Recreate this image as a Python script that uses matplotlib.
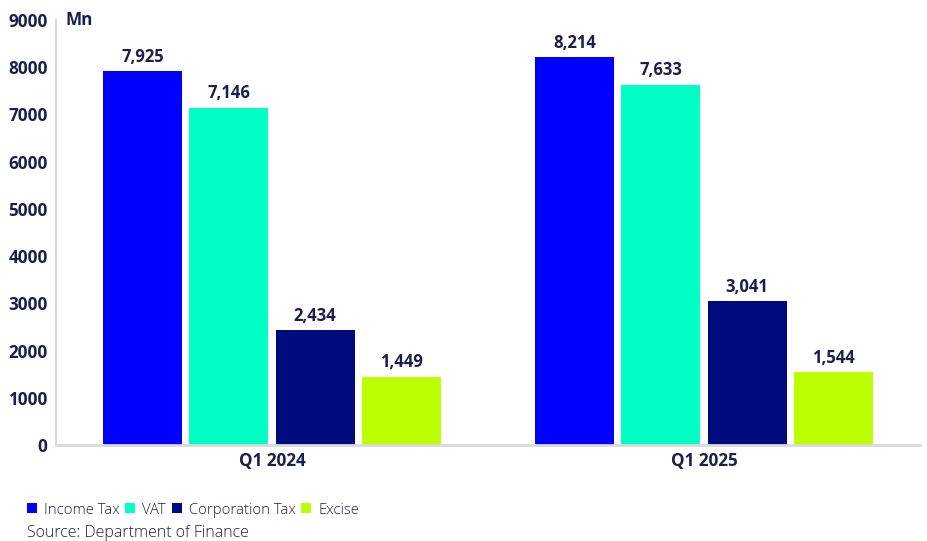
import matplotlib
matplotlib.use("Agg")
import matplotlib.pyplot as plt
import numpy as np
from matplotlib.patches import Patch

categories = ["Q1 2024", "Q1 2025"]
series_names = ["Income Tax", "VAT", "Corporation Tax", "Excise"]
income_tax = [7925, 8214]
vat = [7146, 7633]
corporation_tax = [2434, 3041]
excise = [1449, 1544]
yticks = [0, 1000, 2000, 3000, 4000, 5000, 6000, 7000, 8000, 9000]

colors = ["#0000FF", "#00FFC4", "#000B7D", "#BBFF00"]
text_color = "#1B1F4B"

plt.rcParams['font.family'] = ['Open Sans', 'DejaVu Sans']

fig = plt.figure(figsize=(9.28, 5.41), dpi=100)
ax = fig.add_axes([56/928, 96/541, 864/928, 425/541])

x = np.arange(len(categories))
offsets = [-0.3, -0.1, 0.1, 0.3]
width = 0.182
data = [income_tax, vat, corporation_tax, excise]
for vals, off, col in zip(data, offsets, colors):
    bars = ax.bar(x + off, vals, width=width, color=col)
    for b, v in zip(bars, vals):
        ax.text(b.get_x() + b.get_width()/2, v + 110, f"{v:,}", ha='center', va='bottom',
                fontsize=12, fontweight='bold', color=text_color)

ax.set_xlim(-0.5, 1.5)
ax.set_ylim(0, 9000)
ax.set_yticks(yticks)
ax.set_yticklabels([str(t) for t in yticks])
ax.set_xticks(x)
ax.set_xticklabels(categories)
for lab in ax.get_yticklabels() + ax.get_xticklabels():
    lab.set_fontweight('bold')
    lab.set_fontsize(12.3)
    lab.set_color(text_color)
ax.tick_params(axis='both', length=0)
ax.tick_params(axis='y', pad=6)
ax.tick_params(axis='x', pad=5)
for s in ['top', 'right']:
    ax.spines[s].set_visible(False)
ax.spines['left'].set_color('#D9D9D9')
ax.spines['left'].set_linewidth(1.5)
ax.spines['bottom'].set_color('#D9D9D9')
ax.spines['bottom'].set_linewidth(2)

ax.text(0.011, 1.0, "Mn", transform=ax.transAxes, ha='left', va='center',
        fontsize=12.3, fontweight='bold', color=text_color)

handles = [Patch(facecolor=c, edgecolor='none') for c in colors]
fig.legend(handles, series_names, loc='center left', bbox_to_anchor=(27/928, 1 - 510/541),
           ncol=4, frameon=False, handlelength=0.68, handleheight=0.68, handletextpad=0.45,
           columnspacing=0.4, prop={'size': 10.7, 'weight': 'light'},
           labelcolor=text_color, borderaxespad=0, borderpad=0)
fig.text(27/928, 1 - 533/541, "Source: Department of Finance", ha='left', va='center',
         fontsize=11.5, fontweight='light', color=text_color)

fig.savefig("out.png", dpi=100)
